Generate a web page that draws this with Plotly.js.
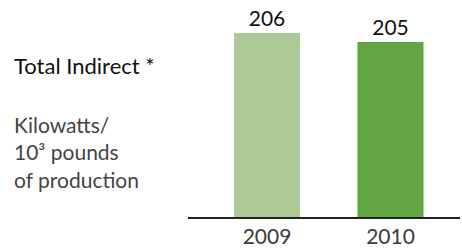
<!DOCTYPE html>
<html>
<head>
<meta charset="utf-8">
<script src="https://cdn.plot.ly/plotly-3.0.1.min.js"></script>
<style>html,body{margin:0;padding:0;background:#fff;}#chart{width:462px;height:248px;}</style>
</head>
<body>
<div id="chart"></div>
<script>
const years = ['2009', '2010'];
const values = [206, 205];
const valueLabels = ['206', '205'];
const barColors = ['#adc995', '#63a543'];
const titleText = 'Total Indirect *';
const unitText = 'Kilowatts/<br>10³ pounds<br>of production';

const FONT = 'Lato, sans-serif';

const trace = {
  type: 'bar',
  x: years,
  y: values,
  text: valueLabels,
  textposition: 'outside',
  cliponaxis: false,
  textfont: {family: FONT, size: 21, color: '#111'},
  marker: {color: barColors},
  width: 0.535,
  hoverinfo: 'none'
};

const layout = {
  width: 462,
  height: 248,
  margin: {l: 188, r: 2, t: 0, b: 31},
  paper_bgcolor: '#fff',
  plot_bgcolor: '#fff',
  showlegend: false,
  font: {family: FONT},
  title: {
    text: titleText,
    x: 14 / 462, xanchor: 'left', xref: 'container',
    y: 1 - 66 / 248, yanchor: 'middle', yref: 'container',
    font: {family: FONT, size: 22, color: '#111'}
  },
  xaxis: {
    type: 'category',
    range: [-0.64, 1.563],
    showline: true, linecolor: '#222', linewidth: 1.5,
    showgrid: false, zeroline: false,
    ticks: '', ticklen: 0,
    tickfont: {family: FONT, size: 21, color: '#3a3a3a'}
  },
  yaxis: {
    range: [185.56, 209.67],
    visible: false, showgrid: false, zeroline: false
  },
  annotations: [{
    text: unitText,
    xref: 'paper', yref: 'paper',
    x: (13 - 188) / 272, y: 1 - 111 / 217,
    xanchor: 'left', yanchor: 'top', align: 'left',
    showarrow: false, borderpad: 0,
    font: {family: FONT, size: 21, color: '#444'}
  }]
};

Plotly.newPlot('chart', [trace], layout, {staticPlot: true, displayModeBar: false});
</script>
</body>
</html>
